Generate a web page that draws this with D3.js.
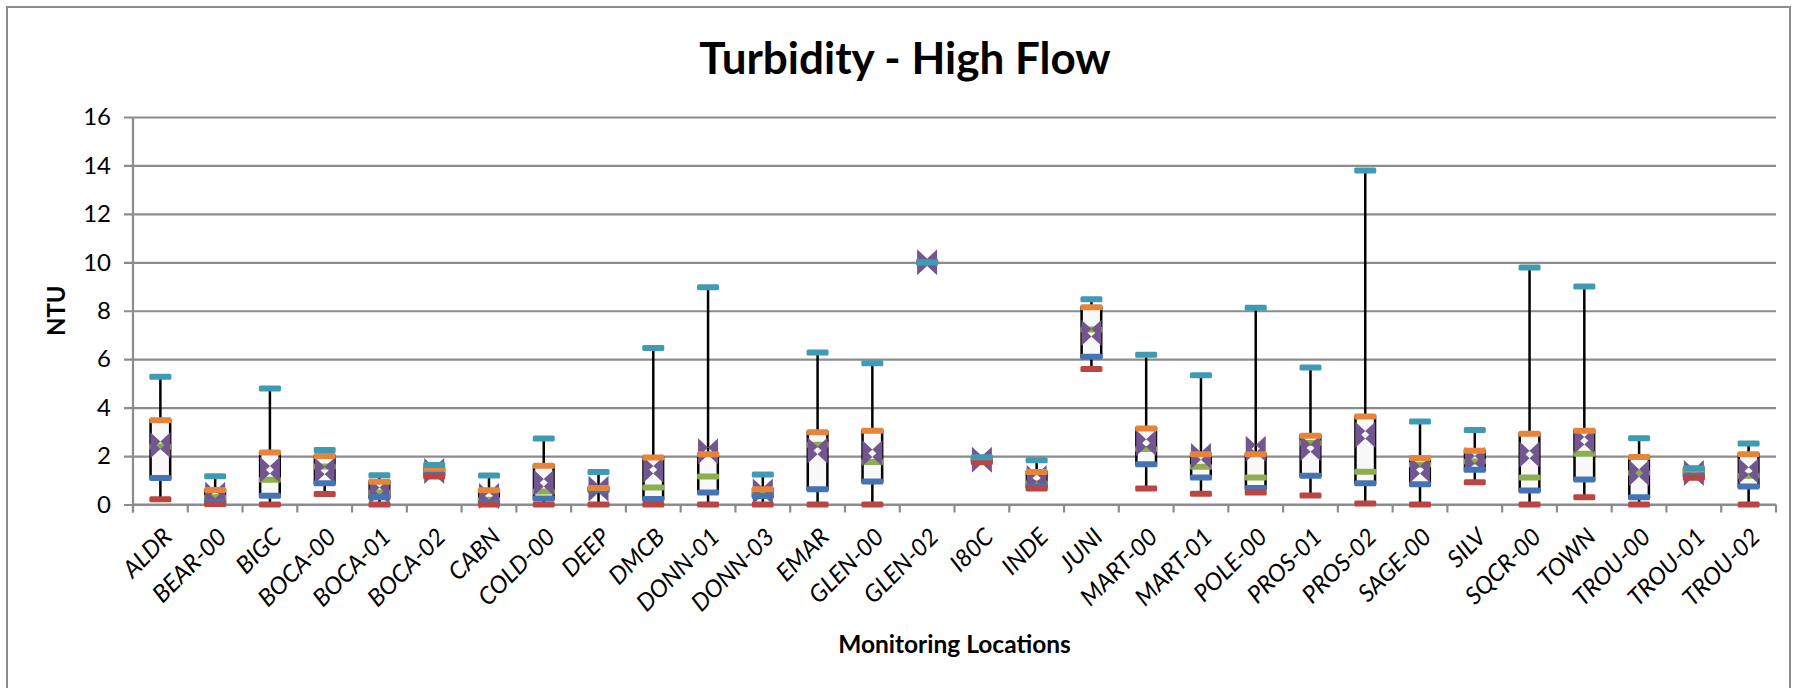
<!DOCTYPE html>
<html>
<head>
<meta charset="utf-8">
<script src="https://cdn.jsdelivr.net/npm/d3@7"></script>
<style>
  body { margin: 0; background: #fff; }
  svg { display: block; font-family: Lato, "Open Sans", sans-serif; }
</style>
</head>
<body>
<div id="grafiek"></div>
<script>
// locaties en statistieken (NTU)
const locaties = ["ALDR", "BEAR-00", "BIGC", "BOCA-00", "BOCA-01", "BOCA-02", "CABN", "COLD-00", "DEEP", "DMCB",
  "DONN-01", "DONN-03", "EMAR", "GLEN-00", "GLEN-02", "I80C", "INDE", "JUNI", "MART-00", "MART-01",
  "POLE-00", "PROS-01", "PROS-02", "SAGE-00", "SILV", "SQCR-00", "TOWN", "TROU-00", "TROU-01", "TROU-02"];
const minimum = [0.22, 0.02, 0.0, 0.43, 0.0, 1.16, 0.0, 0.0, 0.0, 0.0,
  0.0, 0.0, 0.0, 0.0, 10.0, 1.75, 0.66, 5.6, 0.66, 0.44,
  0.5, 0.37, 0.04, 0.0, 0.92, 0.0, 0.3, 0.0, 1.1, 0.0];
const kwartiel1 = [1.09, 0.1, 0.36, 0.88, 0.3, 1.25, 0.08, 0.25, 0.6, 0.23,
  0.5, 0.35, 0.63, 0.95, 10.0, 1.8, 0.74, 6.1, 1.66, 1.12,
  0.68, 1.19, 0.88, 0.84, 1.43, 0.58, 1.03, 0.3, 1.2, 0.74];
const mediaan = [2.4, 0.3, 1.02, 1.57, 0.5, 1.35, 0.2, 0.54, 0.63, 0.7,
  1.16, 0.44, 2.47, 1.75, 10.0, 1.85, 0.88, 7.23, 2.29, 1.56,
  1.12, 2.54, 1.35, 1.64, 1.78, 1.12, 2.1, 1.3, 1.35, 1.19];
const gemiddeld = [2.45, 0.4, 1.43, 1.4, 0.55, 1.38, 0.35, 0.9, 0.65, 1.43,
  2.2, 0.54, 2.23, 2.12, 10.0, 1.85, 1.09, 7.09, 2.54, 2.0,
  2.3, 2.33, 2.88, 1.43, 1.85, 2.06, 2.63, 1.3, 1.3, 1.38];
const kwartiel3 = [3.48, 0.6, 2.15, 2.0, 0.94, 1.48, 0.59, 1.6, 0.68, 1.94,
  2.07, 0.63, 2.98, 3.05, 10.0, 1.9, 1.34, 8.14, 3.14, 2.08,
  2.08, 2.84, 3.63, 1.92, 2.22, 2.92, 3.05, 1.96, 1.45, 2.08];
const maximum = [5.27, 1.17, 4.79, 2.25, 1.21, 1.63, 1.2, 2.73, 1.34, 6.46,
  8.97, 1.24, 6.28, 5.83, 10.0, 1.95, 1.83, 8.47, 6.18, 5.34,
  8.12, 5.66, 13.79, 3.43, 3.08, 9.79, 9.0, 2.74, 1.5, 2.52];
const yTicks = [0, 2, 4, 6, 8, 10, 12, 14, 16];

// objecten maken voor d3
const data = locaties.map((loc, i) => ({
  loc: loc,
  min: minimum[i],
  q1: kwartiel1[i],
  med: mediaan[i],
  mean: gemiddeld[i],
  q3: kwartiel3[i],
  max: maximum[i],
}));

const width = 1794;
const height = 688;
const plot = { left: 133, right: 1776, top: 117, bottom: 504.5 };

const svg = d3.select("#grafiek").append("svg")
  .attr("width", width)
  .attr("height", height);

// rand om de grafiek
svg.append("rect")
  .attr("x", 7).attr("y", 7)
  .attr("width", 1783).attr("height", 700)
  .attr("fill", "none").attr("stroke", "#8c8c8c").attr("stroke-width", 2);

// schalen
const x = d3.scaleBand().domain(locaties).range([plot.left, plot.right]).padding(0);
const y = d3.scaleLinear().domain([0, 16]).range([plot.bottom, plot.top]);

// gridlijnen + y-as
const yAxis = d3.axisLeft(y).tickValues(yTicks).tickSize(plot.right - plot.left + 9).tickPadding(13);
const gY = svg.append("g")
  .attr("transform", `translate(${plot.right},0)`)
  .call(yAxis);
gY.select(".domain").remove();
gY.selectAll(".tick line").attr("stroke", "#8c8c8c").attr("stroke-width", 2.2);
gY.selectAll(".tick text")
  .attr("font-size", 24).attr("fill", "#000")
  .attr("font-family", "Lato, sans-serif");

svg.append("line")
  .attr("x1", plot.left).attr("x2", plot.left)
  .attr("y1", plot.top).attr("y2", plot.bottom + 8)
  .attr("stroke", "#8c8c8c").attr("stroke-width", 2.2);

// x-as met streepjes tussen de locaties
const gX = svg.append("g").attr("transform", `translate(0,${plot.bottom})`);
gX.append("line")
  .attr("x1", plot.left).attr("x2", plot.right)
  .attr("stroke", "#8c8c8c").attr("stroke-width", 2.2);
gX.selectAll(".grens")
  .data(locaties.concat(["eind"]))
  .join("line")
  .attr("class", "grens")
  .attr("x1", (d, i) => plot.left + i * x.bandwidth())
  .attr("x2", (d, i) => plot.left + i * x.bandwidth())
  .attr("y1", 0).attr("y2", 8)
  .attr("stroke", "#8c8c8c").attr("stroke-width", 2.2);
gX.selectAll(".label")
  .data(locaties)
  .join("text")
  .attr("class", "label")
  .attr("transform", (d) => `translate(${x(d) + x.bandwidth() / 2 + 7},28) rotate(-45)`)
  .attr("text-anchor", "end")
  .attr("dy", "0.35em")
  .attr("font-size", 24)
  .attr("font-style", "italic")
  .text((d) => d);

// titels
svg.append("text")
  .attr("x", 905).attr("y", 74)
  .attr("text-anchor", "middle")
  .attr("font-size", 44).attr("font-weight", "bold")
  .text("Turbidity - High Flow");
svg.append("text")
  .attr("transform", `translate(65,${(plot.top + plot.bottom) / 2}) rotate(-90)`)
  .attr("text-anchor", "middle")
  .attr("font-size", 24).attr("font-weight", "bold")
  .text("NTU");
svg.append("text")
  .attr("x", (plot.left + plot.right) / 2).attr("y", 653)
  .attr("text-anchor", "middle")
  .attr("font-size", 24.5).attr("font-weight", "bold")
  .text("Monitoring Locations");

// boxplots
const bw = 22;
const g = svg.append("g");
const box = g.selectAll(".box").data(data).join("g")
  .attr("class", "box")
  .attr("transform", (d) => `translate(${x(d.loc) + x.bandwidth() / 2},0)`);

box.append("line")
  .attr("y1", (d) => y(d.min)).attr("y2", (d) => y(d.max))
  .attr("stroke", "#000").attr("stroke-width", 2.5);

box.append("rect")
  .attr("x", -bw / 2 + 1.2).attr("width", bw - 2.4)
  .attr("y", (d) => y(d.q3))
  .attr("height", (d) => y(d.q1) - y(d.q3))
  .attr("fill", "#f8f8f8").attr("stroke", "#000").attr("stroke-width", 2.5);

function streep(key, kleur) {
  box.append("rect")
    .attr("x", -bw / 2).attr("width", bw)
    .attr("y", (d) => y(d[key]) - 3).attr("height", 6)
    .attr("rx", 1.5)
    .attr("fill", kleur);
}

streep("med", "#8cae4f");

// gemiddelde als vlinderdas-marker
box.append("path")
  .attr("transform", (d) => `translate(0,${y(d.mean)})`)
  .attr("d", "M-10,-13 L4,0 L-10,13 Z M10,-13 L-4,0 L10,13 Z")
  .attr("fill", "#72568f");

streep("q1", "#4574b4");
streep("q3", "#e6843a");
streep("min", "#ba4542");
streep("max", "#3e9bb3");
</script>
</body>
</html>
